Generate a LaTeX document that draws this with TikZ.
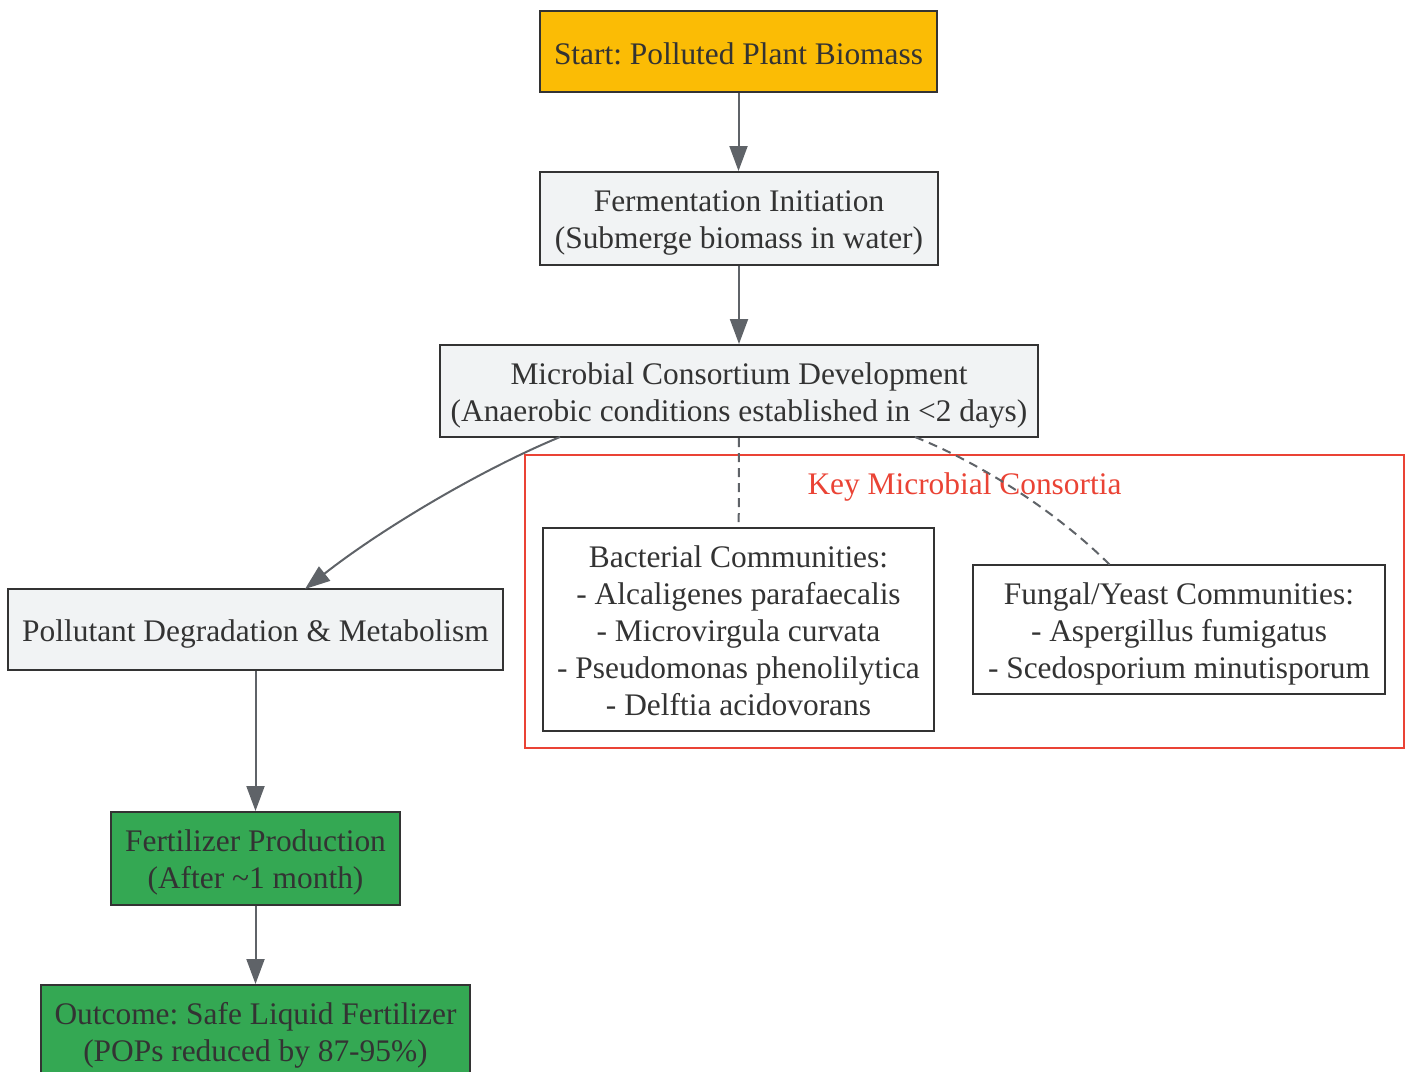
\documentclass[tikz,border=0pt]{standalone}
\usepackage{fontspec}
\setmainfont{Liberation Serif}
\usetikzlibrary{arrows.meta}
\definecolor{ylw}{HTML}{FBBC05}
\definecolor{gry}{HTML}{F1F3F4}
\definecolor{grn}{HTML}{34A853}
\definecolor{redc}{HTML}{EA4335}
\definecolor{edge}{HTML}{5F6368}
\definecolor{txt}{HTML}{333333}
\tikzset{
  box/.style={draw=txt, line width=2pt, rectangle, inner sep=0pt},
  boxtext/.style={align=center, inner sep=0pt, text=txt, font={\frenchspacing\fontsize{31.4}{37}\selectfont}},
  flow/.style={draw=edge, line width=2pt, -{Triangle[length=25pt,width=18pt]}},
  link/.style={draw=edge, line width=2pt, dash pattern=on 9pt off 6pt},
}
\begin{document}
\begin{tikzpicture}[x=1pt,y=-1pt]
\useasboundingbox (0,0) rectangle (1408,1071);
% cluster
\node[draw=redc, line width=2pt, minimum width=879pt, minimum height=293pt, inner sep=0pt] (clu) at (964.5,601.5) {};
\node[boxtext, text=redc, yshift=-3pt] (clut) at (964.5,484) {Key Microbial Consortia};
% nodes
\node[box, fill=ylw, minimum width=397pt, minimum height=81pt,
  label={[boxtext, yshift=-2pt]center:{Start: Polluted Plant Biomass}}] (start) at (738.5,51.5) {};
\node[box, fill=gry, minimum width=398pt, minimum height=93pt,
  label={[boxtext, yshift=-4pt]center:{Fermentation Initiation\\(Submerge biomass in water)}}] (ferm) at (739,218.5) {};
\node[box, fill=gry, minimum width=598pt, minimum height=92pt,
  label={[boxtext, yshift=-4pt]center:{Microbial Consortium Development\\(Anaerobic conditions established in <2 days)}}] (micro) at (739,391) {};
\node[box, fill=gry, minimum width=495pt, minimum height=81pt,
  label={[boxtext, yshift=-4pt]center:{Pollutant Degradation \& Metabolism}}] (poll) at (255.5,629.5) {};
\node[box, fill=grn, minimum width=289pt, minimum height=93pt,
  label={[boxtext, yshift=-4pt]center:{Fertilizer Production\\(After \textasciitilde1 month)}}] (fert) at (255.5,858.5) {};
\node[box, fill=grn, minimum width=429pt, minimum height=93pt,
  label={[boxtext, yshift=-4pt]center:{Outcome: Safe Liquid Fertilizer\\(POPs reduced by 87-95\%)}}] (out) at (255.5,1031.5) {};
\node[box, fill=white, minimum width=391pt, minimum height=203pt,
  label={[boxtext, yshift=-1pt]center:{Bacterial Communities:\\- Alcaligenes parafaecalis\\- Microvirgula curvata\\- Pseudomonas phenolilytica\\- Delftia acidovorans}}] (bact) at (738.5,629.5) {};
\node[box, fill=white, minimum width=412pt, minimum height=129pt,
  label={[boxtext, yshift=-4pt]center:{Fungal/Yeast Communities:\\- Aspergillus fumigatus\\- Scedosporium minutisporum}}] (fung) at (1179,629.5) {};
% edges
\draw[flow] (start.south) -- (start.south |- ferm.north);
\draw[flow] (ferm) -- (micro);
\coordinate (m1) at (560,437);
\coordinate (p1) at (305,589);
\draw[flow] (m1) .. controls (480,470) and (380,530) .. (p1);
\draw[flow] (poll) -- (fert);
\draw[flow] (fert) -- (out);
\draw[link] (micro) -- (bact);
\coordinate (m2) at (915,437);
\coordinate (f1) at (1110,565);
\draw[link] (m2) .. controls (985,465) and (1060,515) .. (f1);
\end{tikzpicture}
\end{document}
